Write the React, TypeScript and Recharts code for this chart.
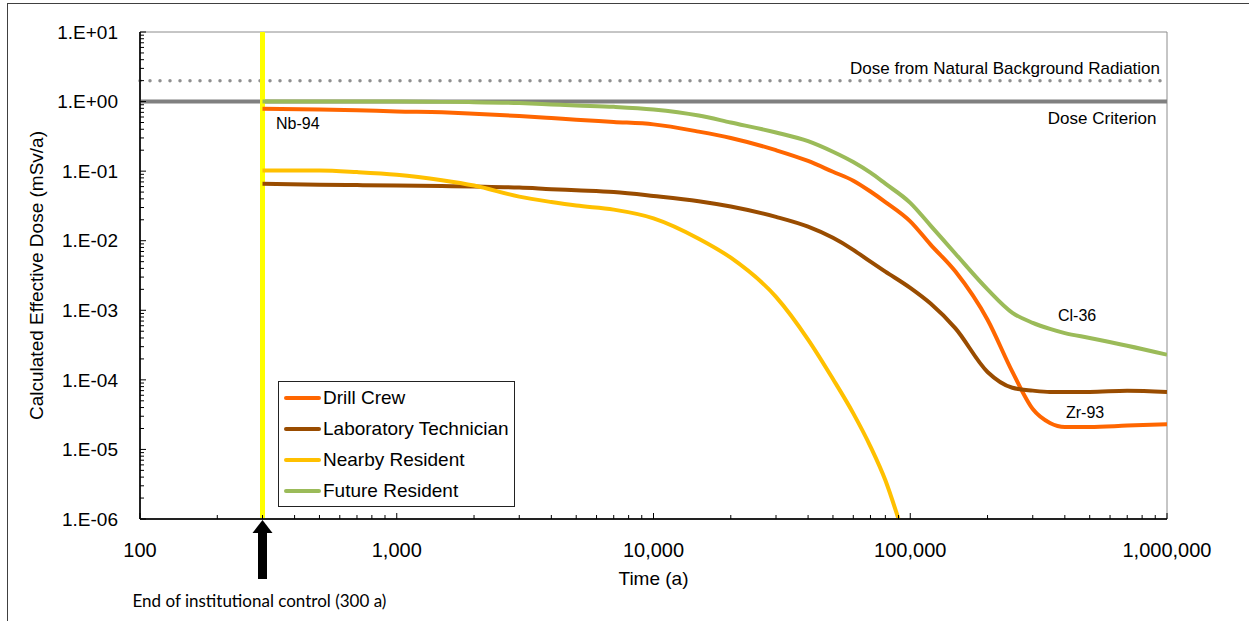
import React from 'react'
import { LineChart, Line, XAxis, YAxis, ReferenceLine, Legend } from 'recharts'

const FONT = '"Liberation Sans", Arial, sans-serif'

// time after closure (a), shared by three of the receptors
const years = [
  300, 500, 700, 1000, 1500, 2000, 3000, 4000, 5000, 7000, 10000, 15000, 20000, 30000, 40000,
  50000, 60000, 70000, 80000, 100000, 120000, 150000, 200000, 250000, 300000, 350000, 400000,
  500000, 700000, 1000000,
]

const drillCrew = [
  0.79, 0.77, 0.75, 0.72, 0.7, 0.67, 0.62, 0.58, 0.55, 0.51, 0.47, 0.37, 0.3, 0.2, 0.14, 0.098,
  0.073, 0.051, 0.036, 0.019, 0.0088, 0.0036, 0.00073, 0.00013, 0.000038, 0.000024, 0.000021,
  0.000021, 0.000022, 0.000023,
]

const labTechnician = [
  0.066, 0.064, 0.063, 0.062, 0.061, 0.06, 0.058, 0.055, 0.053, 0.05, 0.044, 0.037, 0.031, 0.022,
  0.0159, 0.011, 0.0074, 0.005, 0.0036, 0.0021, 0.00125, 0.00055, 0.00013, 0.000077, 0.00007,
  0.000067, 0.000067, 0.000067, 0.00007, 0.000067,
]

const futureResident = [
  1.0, 1.0, 1.0, 1.0, 0.99, 0.98, 0.95, 0.91, 0.88, 0.84, 0.77, 0.63, 0.5, 0.36, 0.27, 0.19, 0.135,
  0.095, 0.066, 0.035, 0.0165, 0.0065, 0.002, 0.00092, 0.00066, 0.00054, 0.00047, 0.0004, 0.00031,
  0.00023,
]

// nearby resident drops off the bottom of the chart before 100,000 a
const nearbyYears = [
  300, 500, 700, 1000, 1500, 2000, 3000, 4000, 5000, 7000, 10000, 15000, 20000, 30000, 40000,
  50000, 60000, 70000, 80000, 90000,
]
const nearbyResident = [
  0.102, 0.102, 0.097, 0.089, 0.074, 0.062, 0.043, 0.036, 0.032, 0.028, 0.021, 0.0107, 0.0057,
  0.00156, 0.00038, 0.000103, 0.000033, 0.000011, 0.0000036, 0.000001,
]

const doseCriterion = 1
const backgroundDose = 2
const institutionalControlEnd = 300

const xTicks = [100, 1000, 10000, 100000, 1000000]
const yTicks = [1e-6, 1e-5, 1e-4, 1e-3, 1e-2, 1e-1, 1, 10]
const steps = [2, 3, 4, 5, 6, 7, 8, 9]
const xAllTicks = [...xTicks, ...xTicks.slice(0, -1).flatMap((d) => steps.map((m) => m * d))].sort(
  (a, b) => a - b,
)
const yAllTicks = [...yTicks, ...yTicks.slice(0, -1).flatMap((d) => steps.map((m) => m * d))].sort(
  (a, b) => a - b,
)

const series = [
  { name: 'Drill Crew', color: '#FF6600', x: years, y: drillCrew },
  { name: 'Laboratory Technician', color: '#994C00', x: years, y: labTechnician },
  { name: 'Nearby Resident', color: '#FFC000', x: nearbyYears, y: nearbyResident },
  { name: 'Future Resident', color: '#9BBB59', x: years, y: futureResident },
]

const isDecade = (v: number) => Math.abs(Math.log10(v) - Math.round(Math.log10(v))) < 1e-6

const fmtY = (v: number) => {
  const e = Math.round(Math.log10(v))
  return `1.E${e < 0 ? '-' : '+'}${String(Math.abs(e)).padStart(2, '0')}`
}
const fmtX = (v: number) => v.toLocaleString('en-US')

const X_MARGIN = 24
const Y_MARGIN = 22

// tick marks point into the plot; only decades get a label
const XTick = (props: any) => {
  const { x, y, payload } = props
  const axisY = y - X_MARGIN
  const major = isDecade(payload.value)
  return (
    <g>
      <line x1={x} x2={x} y1={axisY} y2={axisY - (major ? 6 : 4)} stroke='#000' strokeWidth={1} />
      {major && (
        <text x={x} y={y} dy='0.71em' textAnchor='middle' fill='#000' fontSize={20} fontFamily={FONT}>
          {fmtX(payload.value)}
        </text>
      )}
    </g>
  )
}

const YTick = (props: any) => {
  const { x, y, payload } = props
  const axisX = x + Y_MARGIN
  const major = isDecade(payload.value)
  return (
    <g>
      <line x1={axisX} x2={axisX + (major ? 6 : 4)} y1={y} y2={y} stroke='#000' strokeWidth={1} />
      {major && (
        <text x={x} y={y} dy='0.355em' textAnchor='end' fill='#000' fontSize={19} fontFamily={FONT}>
          {fmtY(payload.value)}
        </text>
      )}
    </g>
  )
}

const ArrowMark = (props: any) => {
  const vb = props.viewBox || {}
  const x = vb.x
  const y = vb.y + vb.height
  return (
    <g>
      <polygon points={`${x},${y + 1} ${x - 10},${y + 14} ${x + 10},${y + 14}`} fill='#000' />
      <rect x={x - 4.5} y={y + 13} width={9} height={47} fill='#000' />
      <text x={x - 130} y={y + 88} fontFamily='Lato, sans-serif' fontSize={17} fill='#000'>
        End of institutional control (300 a)
      </text>
    </g>
  )
}

const LegendBox = () => (
  <div
    style={{
      border: '1px solid #222',
      background: '#fff',
      width: 235,
      fontFamily: FONT,
      fontSize: 19,
      color: '#000',
    }}
  >
    {series.map((s) => (
      <div key={s.name} style={{ display: 'flex', alignItems: 'center', height: 31 }}>
        <span
          style={{
            display: 'inline-block',
            width: 37,
            height: 4,
            borderRadius: 2,
            background: s.color,
            marginLeft: 5,
            marginRight: 2,
          }}
        />
        <span>{s.name}</span>
      </div>
    ))}
  </div>
)

const notes = [
  { text: 'Nb-94', x: 276, y: 129 },
  { text: 'Cl-36', x: 1058, y: 321 },
  { text: 'Zr-93', x: 1066, y: 418 },
]

const App = () => {
  return (
    <div
      style={{
        position: 'absolute',
        left: 0,
        top: 0,
        width: 1249,
        height: 621,
        background: '#fff',
        overflow: 'hidden',
      }}
    >
      <div
        style={{
          position: 'absolute',
          left: 7,
          top: 3,
          right: 0,
          bottom: 0,
          borderTop: '1.5px solid #404040',
          borderLeft: '1.5px solid #404040',
        }}
      />
      <LineChart width={1249} height={621} margin={{ top: 32, right: 82, bottom: 52, left: 0 }}>
        <XAxis
          dataKey='t'
          type='number'
          scale='log'
          domain={[100, 1000000]}
          allowDataOverflow
          ticks={xAllTicks}
          interval={0}
          tick={<XTick />}
          tickSize={0}
          tickMargin={X_MARGIN}
          height={50}
          axisLine={{ stroke: '#222', strokeWidth: 2 }}
          tickLine={false}
          label={{ value: 'Time (a)', position: 'bottom', offset: 3, fill: '#000', fontSize: 19, fontFamily: FONT }}
        />
        <YAxis
          type='number'
          scale='log'
          domain={[1e-6, 10]}
          allowDataOverflow
          ticks={yAllTicks}
          interval={0}
          tick={<YTick />}
          tickSize={0}
          tickMargin={Y_MARGIN}
          width={140}
          axisLine={{ stroke: '#222', strokeWidth: 2 }}
          tickLine={false}
          label={{
            value: 'Calculated Effective Dose (mSv/a)',
            angle: -90,
            position: 'insideLeft',
            offset: 36,
            fill: '#000',
            fontSize: 19,
            fontFamily: FONT,
            style: { textAnchor: 'middle' },
          }}
        />
        <ReferenceLine y={10} stroke='#8c8c8c' strokeWidth={1} />
        <ReferenceLine x={1000000} stroke='#8c8c8c' strokeWidth={1} />
        <ReferenceLine
          y={backgroundDose}
          stroke='#8f8f8f'
          strokeWidth={3.5}
          strokeDasharray='0 10'
          strokeLinecap='round'
          label={{
            value: 'Dose from Natural Background Radiation',
            position: 'insideBottomRight',
            offset: 7,
            fill: '#000',
            fontSize: 17,
            fontFamily: FONT,
          }}
        />
        <ReferenceLine
          y={doseCriterion}
          stroke='#808080'
          strokeWidth={4}
          label={{
            value: 'Dose Criterion',
            position: 'insideTopRight',
            offset: 10.5,
            fill: '#000',
            fontSize: 17,
            fontFamily: FONT,
          }}
        />
        <ReferenceLine x={institutionalControlEnd} stroke='#FFFF00' strokeWidth={5} label={ArrowMark} />
        {series.map((s) => (
          <Line
            key={s.name}
            name={s.name}
            data={s.x.map((t, i) => ({ t, dose: s.y[i] }))}
            dataKey='dose'
            type='monotone'
            stroke={s.color}
            strokeWidth={4}
            dot={false}
            activeDot={false}
            isAnimationActive={false}
          />
        ))}
        <Legend
          layout='vertical'
          align='center'
          verticalAlign='middle'
          content={() => <LegendBox />}
          wrapperStyle={{ left: 278, top: 381, width: 237 }}
        />
      </LineChart>
      <svg
        width={1249}
        height={621}
        style={{ position: 'absolute', left: 0, top: 0, pointerEvents: 'none' }}
      >
        {notes.map((n) => (
          <text key={n.text} x={n.x} y={n.y} fontFamily={FONT} fontSize={16} fill='#000'>
            {n.text}
          </text>
        ))}
      </svg>
    </div>
  )
}

export default App
